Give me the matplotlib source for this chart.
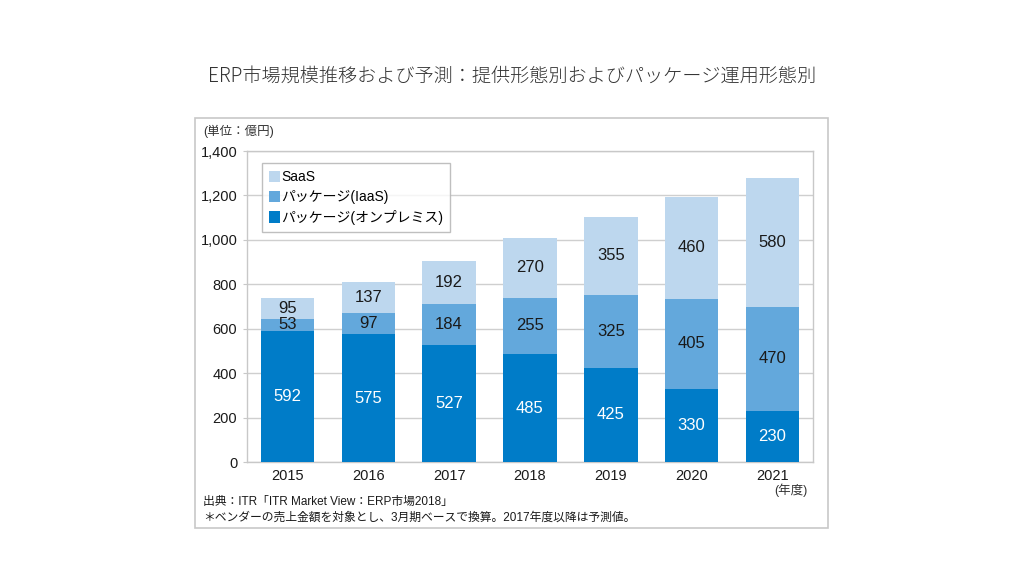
import numpy as np
import matplotlib.pyplot as plt
from matplotlib.patches import Rectangle

plt.rcParams['font.family'] = ['Liberation Sans', 'Noto Sans CJK JP', 'DejaVu Sans']

# data (億円)
years = ['2015', '2016', '2017', '2018', '2019', '2020', '2021']
onprem = [592, 575, 527, 485, 425, 330, 230]
iaas = [53, 97, 184, 255, 325, 405, 470]
saas = [95, 137, 192, 270, 355, 460, 580]

series_names = ['パッケージ(オンプレミス)', 'パッケージ(IaaS)', 'SaaS']
colors = ['#007cc8', '#63a8dc', '#bdd7ee']
label_colors = ['white', '#1a1a1a', '#1a1a1a']

fig = plt.figure(figsize=(10.24, 5.76), dpi=100)

# outer frame around the chart
fig.patches.append(Rectangle((0.1904, 0.0833), 0.618, 0.712, transform=fig.transFigure,
                             fill=False, edgecolor='#c8c8c8', linewidth=1.2))

fig.text(0.5, 0.868, 'ERP市場規模推移および予測：提供形態別およびパッケージ運用形態別',
         ha='center', va='center', fontsize=13.8, color='#333333',
         family=['Noto Sans CJK JP'], fontweight='light')

ax = fig.add_axes([0.2412, 0.1979, 0.5527, 0.5399])

x = np.arange(len(years))
width = 0.66
bottom = np.zeros(len(years))
handles = []
for vals, name, c, lc in zip([onprem, iaas, saas], series_names, colors, label_colors):
    vals = np.array(vals)
    b = ax.bar(x, vals, width, bottom=bottom, color=c, label=name, zorder=3)
    handles.append(b)
    for xi, v, b0 in zip(x, vals, bottom):
        ax.text(xi, b0 + v / 2, str(v), ha='center', va='center', fontsize=12,
                color=lc, zorder=4)
    bottom += vals

ax.set_xlim(-0.5, 6.5)
ax.set_ylim(0, 1400)
ax.set_yticks(range(0, 1401, 200))
ax.set_yticklabels([f'{v:,}' for v in range(0, 1401, 200)])
ax.set_xticks(x)
ax.set_xticklabels(years)
ax.tick_params(axis='x', length=0, labelsize=10.5, pad=5, colors='#1a1a1a')
ax.tick_params(axis='y', length=3, labelsize=10.5, pad=4, colors='#c8c8c8', labelcolor='#1a1a1a')
ax.yaxis.grid(True, color='#cfcfcf', linewidth=1.0, zorder=0)
for s in ax.spines.values():
    s.set_color('#c8c8c8')
    s.set_linewidth(1.0)

leg = ax.legend(handles[::-1], series_names[::-1], loc='upper left',
                bbox_to_anchor=(0.026, 0.961), borderaxespad=0, frameon=True, fancybox=False,
                handlelength=0.8, handleheight=0.85, handletextpad=0.1, labelspacing=0.42,
                borderpad=0.5, prop={'family': ['Liberation Sans', 'Noto Sans CJK JP'], 'size': 10})
leg.get_frame().set_edgecolor('#b0b0b0')
leg.get_frame().set_linewidth(1.0)
leg.set_zorder(5)

fig.text(0.198, 0.772, '(単位：億円)', ha='left', va='center', fontsize=9, color='#333333')
fig.text(0.772, 0.149, '(年度)', ha='center', va='center', fontsize=9, color='#333333')
fig.text(0.198, 0.128, '出典：ITR「ITR Market View：ERP市場2018」', ha='left', va='center',
         fontsize=8.5, color='#1a1a1a')
fig.text(0.198, 0.102, '＊ベンダーの売上金額を対象とし、3月期ベースで換算。2017年度以降は予測値。',
         ha='left', va='center', fontsize=8.5, color='#1a1a1a')

fig.savefig('out.png', dpi=100)
